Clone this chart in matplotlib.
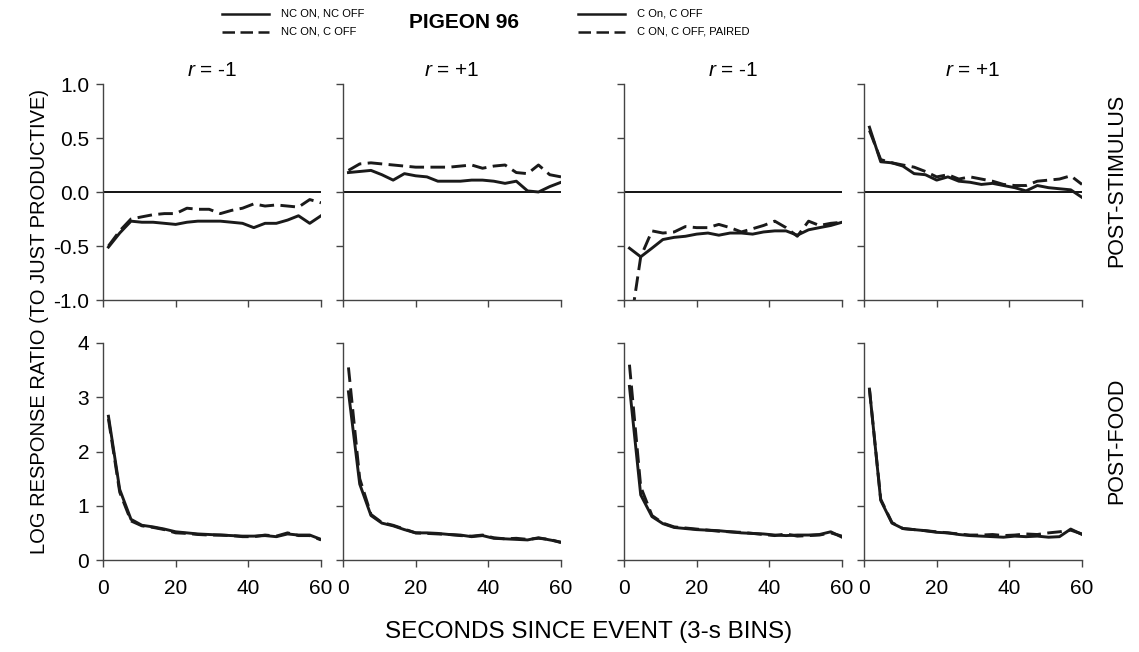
import matplotlib.pyplot as plt
from matplotlib.lines import Line2D

plt.rcParams['font.family'] = ['Liberation Sans', 'DejaVu Sans']
plt.rcParams['mathtext.fontset'] = 'custom'
plt.rcParams['mathtext.it'] = 'Liberation Sans:italic'
plt.rcParams['mathtext.rm'] = 'Liberation Sans'

# time bins (s since event)
seconds = [1.5, 4.6, 7.7, 10.7, 13.8, 16.9, 20.0, 23.1, 26.1, 29.2,
           32.3, 35.4, 38.4, 41.5, 44.6, 47.7, 50.8, 53.8, 56.9, 60.0]

panel_titles = ['$r$ = -1', '$r$ = +1', '$r$ = -1', '$r$ = +1']

# post-stimulus, solid / dashed per panel
stim_solid_1 = [-0.51, -0.38, -0.27, -0.28, -0.28, -0.29, -0.30, -0.28, -0.27, -0.27,
                -0.27, -0.28, -0.29, -0.33, -0.29, -0.29, -0.26, -0.22, -0.29, -0.22]
stim_dash_1 = [-0.50, -0.36, -0.25, -0.23, -0.21, -0.20, -0.20, -0.15, -0.16, -0.16,
               -0.20, -0.17, -0.15, -0.11, -0.13, -0.12, -0.13, -0.14, -0.07, -0.10]
stim_solid_2 = [0.18, 0.19, 0.20, 0.16, 0.11, 0.17, 0.15, 0.14, 0.10, 0.10,
                0.10, 0.11, 0.11, 0.10, 0.08, 0.10, 0.01, 0.00, 0.05, 0.09]
stim_dash_2 = [0.20, 0.26, 0.27, 0.26, 0.25, 0.24, 0.23, 0.23, 0.23, 0.23,
               0.24, 0.25, 0.22, 0.24, 0.25, 0.18, 0.17, 0.25, 0.16, 0.14]
stim_solid_3 = [-0.52, -0.60, -0.52, -0.44, -0.42, -0.41, -0.39, -0.38, -0.40, -0.38,
                -0.38, -0.39, -0.37, -0.36, -0.36, -0.40, -0.35, -0.33, -0.31, -0.28]
stim_dash_3 = [-1.30, -0.60, -0.36, -0.38, -0.37, -0.32, -0.33, -0.33, -0.30, -0.33,
               -0.37, -0.34, -0.31, -0.27, -0.33, -0.41, -0.27, -0.31, -0.29, -0.28]
stim_solid_4 = [0.60, 0.28, 0.27, 0.24, 0.17, 0.16, 0.11, 0.14, 0.10, 0.09,
                0.07, 0.08, 0.06, 0.04, 0.01, 0.06, 0.04, 0.03, 0.02, -0.05]
stim_dash_4 = [0.57, 0.30, 0.27, 0.25, 0.23, 0.19, 0.14, 0.16, 0.12, 0.14,
               0.12, 0.10, 0.07, 0.06, 0.06, 0.10, 0.11, 0.12, 0.15, 0.07]

# post-food
food_solid_1 = [2.65, 1.30, 0.75, 0.64, 0.61, 0.57, 0.52, 0.50, 0.48, 0.47,
                0.46, 0.45, 0.44, 0.44, 0.45, 0.43, 0.48, 0.46, 0.46, 0.38]
food_dash_1 = [2.60, 1.25, 0.72, 0.63, 0.60, 0.56, 0.50, 0.49, 0.47, 0.46,
               0.46, 0.45, 0.43, 0.43, 0.46, 0.44, 0.50, 0.45, 0.45, 0.37]
food_solid_2 = [3.10, 1.40, 0.82, 0.68, 0.63, 0.56, 0.50, 0.50, 0.49, 0.47,
                0.46, 0.43, 0.45, 0.40, 0.39, 0.38, 0.37, 0.41, 0.37, 0.33]
food_dash_2 = [3.55, 1.50, 0.84, 0.69, 0.64, 0.57, 0.50, 0.49, 0.48, 0.47,
               0.45, 0.44, 0.46, 0.41, 0.39, 0.40, 0.38, 0.40, 0.38, 0.32]
food_solid_3 = [3.20, 1.20, 0.80, 0.67, 0.60, 0.58, 0.56, 0.55, 0.54, 0.52,
                0.50, 0.49, 0.48, 0.46, 0.45, 0.46, 0.46, 0.47, 0.52, 0.42]
food_dash_3 = [3.60, 1.35, 0.82, 0.68, 0.61, 0.59, 0.57, 0.55, 0.53, 0.52,
               0.51, 0.49, 0.47, 0.45, 0.48, 0.44, 0.45, 0.46, 0.50, 0.44]
food_solid_4 = [3.15, 1.10, 0.68, 0.58, 0.56, 0.54, 0.51, 0.50, 0.47, 0.45,
                0.44, 0.43, 0.42, 0.44, 0.43, 0.44, 0.42, 0.43, 0.57, 0.47]
food_dash_4 = [3.15, 1.12, 0.69, 0.58, 0.56, 0.54, 0.52, 0.50, 0.48, 0.46,
               0.46, 0.47, 0.45, 0.46, 0.48, 0.47, 0.50, 0.52, 0.55, 0.48]

stim_solid = [stim_solid_1, stim_solid_2, stim_solid_3, stim_solid_4]
stim_dash = [stim_dash_1, stim_dash_2, stim_dash_3, stim_dash_4]
food_solid = [food_solid_1, food_solid_2, food_solid_3, food_solid_4]
food_dash = [food_dash_1, food_dash_2, food_dash_3, food_dash_4]

W, H = 1139, 652
fig = plt.figure(figsize=(W / 100, H / 100), dpi=100)

lefts = [103, 343, 624, 864]
pw = 218
line_col = '#1a1a1a'
dash = (0, (5, 2.2))

def px_axes(x0, y0, w, h):
    return fig.add_axes([x0 / W, 1 - (y0 + h) / H, w / W, h / H])

def style(ax):
    for s in ['top', 'right']:
        ax.spines[s].set_visible(False)
    for s in ['left', 'bottom']:
        ax.spines[s].set_color('#444444')
        ax.spines[s].set_linewidth(1.0)
    ax.tick_params(direction='out', length=5, width=1, color='#444444',
                   labelsize=15)
    ax.tick_params(axis='y', pad=5)
    ax.tick_params(axis='x', pad=9)

for i in range(4):
    # post-stimulus row
    ax = px_axes(lefts[i], 84, pw, 216)
    style(ax)
    ax.axhline(0, color='black', lw=1.3)
    ax.plot(seconds, stim_solid[i], color=line_col, lw=2.1)
    ax.plot(seconds, stim_dash[i], color=line_col, lw=2.1, linestyle=dash)
    ax.set_xlim(0, 60)
    ax.set_ylim(-1, 1)
    ax.set_xticks([0, 20, 40, 60])
    ax.set_xticklabels([])
    ax.set_yticks([-1, -0.5, 0, 0.5, 1])
    if i == 0:
        ax.set_yticklabels(['-1.0', '-0.5', '0.0', '0.5', '1.0'])
    else:
        ax.set_yticklabels([])
    ax.set_title(panel_titles[i], fontsize=15, pad=6)

    # post-food row
    ax = px_axes(lefts[i], 343, pw, 217)
    style(ax)
    ax.plot(seconds, food_solid[i], color=line_col, lw=2.1)
    ax.plot(seconds, food_dash[i], color=line_col, lw=2.1, linestyle=dash)
    ax.set_xlim(0, 60)
    ax.set_ylim(0, 4)
    ax.set_xticks([0, 20, 40, 60])
    ax.set_yticks([0, 1, 2, 3, 4])
    if i != 0:
        ax.set_yticklabels([])

fig.text(40 / W, 1 - 322 / H, 'LOG RESPONSE RATIO (TO JUST PRODUCTIVE)',
         rotation=90, ha='center', va='center', fontsize=14.5)
fig.text(589 / W, 1 - 632 / H, 'SECONDS SINCE EVENT (3-s BINS)',
         ha='center', va='center', fontsize=17.5)
fig.text(1117 / W, 1 - 180 / H, 'POST-STIMULUS', rotation=90,
         ha='center', va='center', fontsize=15.5)
fig.text(1117 / W, 1 - 441 / H, 'POST-FOOD', rotation=90,
         ha='center', va='center', fontsize=15.5)

# legend block at top
fig.text(464 / W, 1 - 22 / H, 'PIGEON 96', ha='center', va='center',
         fontsize=15, fontweight='bold')
legend_rows = [(222, 14, '-', 'NC ON, NC OFF'), (222, 32, dash, 'NC ON, C OFF'),
               (578, 14, '-', 'C On, C OFF'), (578, 32, dash, 'C ON, C OFF, PAIRED')]
for x0, y0, ls, label in legend_rows:
    fig.add_artist(Line2D([x0 / W, (x0 + 47) / W], [1 - y0 / H, 1 - y0 / H],
                          color=line_col, lw=1.8, linestyle=ls))
    fig.text((x0 + 59) / W, 1 - y0 / H, label, ha='left', va='center',
             fontsize=8)

fig.savefig('out.png', dpi=100)
